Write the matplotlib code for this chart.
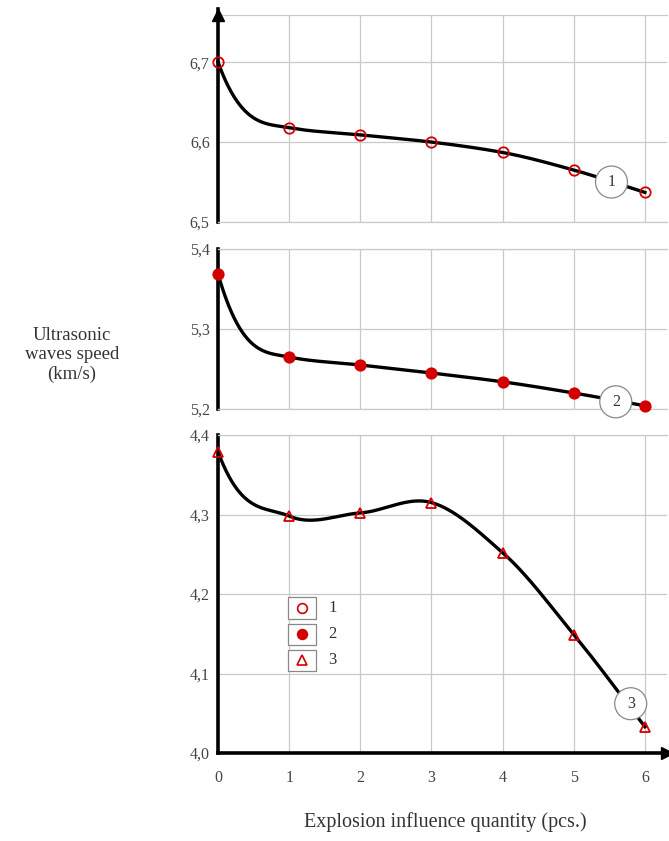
import numpy as np
import matplotlib.pyplot as plt
from matplotlib.patches import Rectangle

plt.rcParams['font.family'] = ['Liberation Serif', 'DejaVu Serif']

x = [0, 1, 2, 3, 4, 5, 6]
speed_1 = [6.700, 6.618, 6.609, 6.600, 6.587, 6.565, 6.537]
speed_2 = [5.369, 5.265, 5.255, 5.245, 5.234, 5.220, 5.204]
speed_3 = [4.379, 4.298, 4.302, 4.315, 4.252, 4.149, 4.033]

yticks_1 = [6.5, 6.6, 6.7]
yticks_2 = [5.2, 5.3, 5.4]
yticks_3 = [4.0, 4.1, 4.2, 4.3, 4.4]

RED = '#d40000'
GRID = '#c9c9c9'


def smooth(xs, ys, n=80, start=3.0):
    # cubic hermite through the points, steep start like the original fit
    xs = np.asarray(xs, float)
    ys = np.asarray(ys, float)
    d = np.diff(ys) / np.diff(xs)
    m = np.zeros_like(ys)
    for i in range(1, len(ys) - 1):
        if d[i - 1] * d[i] > 0:
            m[i] = 2 / (1 / d[i - 1] + 1 / d[i])
        else:
            m[i] = (d[i - 1] + d[i]) / 2
    m[0] = start * d[0]
    m[-1] = d[-1]
    xx, yy = [], []
    for i in range(len(xs) - 1):
        h = xs[i + 1] - xs[i]
        t = np.linspace(0, 1, n)
        h00 = 2 * t**3 - 3 * t**2 + 1
        h10 = t**3 - 2 * t**2 + t
        h01 = -2 * t**3 + 3 * t**2
        h11 = t**3 - t**2
        xx.append(xs[i] + t * h)
        yy.append(h00 * ys[i] + h10 * h * m[i] + h01 * ys[i + 1] + h11 * h * m[i + 1])
    return np.concatenate(xx), np.concatenate(yy)


W, H = 669, 841
fig = plt.figure(figsize=(W / 100, H / 100), dpi=100)


def panel(top, bottom, ylim, ticks):
    ax = fig.add_axes([218 / W, (H - bottom) / H, (667 - 218) / W, (bottom - top) / H])
    ax.set_xlim(0, 6.31)
    ax.set_ylim(*ylim)
    ax.set_xticks(x)
    ax.set_yticks(ticks)
    ax.set_yticklabels([f"{t:.1f}".replace('.', ',') for t in ticks])
    ax.grid(True, color=GRID, linewidth=0.9)
    ax.set_axisbelow(True)
    ax.spines['right'].set_visible(False)
    ax.spines['top'].set_color(GRID)
    ax.spines['top'].set_linewidth(0.9)
    ax.spines['bottom'].set_color(GRID)
    ax.spines['bottom'].set_linewidth(0.9)
    ax.spines['left'].set_linewidth(2.6)
    ax.tick_params(axis='y', length=0, pad=6, labelsize=11.5, labelcolor='#444444')
    ax.tick_params(axis='x', length=0, labelbottom=False)
    return ax


ax1 = panel(15, 222, (6.5, 6.759), yticks_1)
ax2 = panel(249, 409, (5.2, 5.4), yticks_2)
ax3 = panel(435, 753, (4.0, 4.4), yticks_3)
ax3.spines['bottom'].set_color('black')
ax3.spines['bottom'].set_linewidth(2.6)
ax3.tick_params(axis='x', labelbottom=True, labelsize=11.5, labelcolor='#444444', pad=12)

series = [
    (ax1, speed_1, dict(marker='o', mfc='none', mec=RED), '1', (5.53, 6.550)),
    (ax2, speed_2, dict(marker='o', mfc=RED, mec=RED), '2', (5.59, 5.209)),
    (ax3, speed_3, dict(marker='^', mfc='none', mec=RED), '3', (5.80, 4.062)),
]
for ax, ys, mk, lab, pos in series:
    sx, sy = smooth(x, ys)
    ax.plot(sx, sy, color='black', linewidth=2.4, zorder=3, clip_on=False)
    ax.plot(x, ys, linestyle='none', markersize=7.5, markeredgewidth=1.3,
            zorder=4, clip_on=False, **mk)
    ax.text(pos[0], pos[1], lab, ha='center', va='center', fontsize=11.5, color='#333333',
            zorder=5, bbox=dict(boxstyle='circle,pad=0.5', fc='white', ec='#888888', lw=0.9))

# axis arrows
ax1.plot([0], [1.0], marker='^', color='black', markersize=9, transform=ax1.transAxes,
         clip_on=False, zorder=6)
ax1.plot([0, 0], [1.0, 1.03], color='black', linewidth=2.6, transform=ax1.transAxes,
         clip_on=False)
ax3.plot([1.0], [0], marker='>', color='black', markersize=9, transform=ax3.transAxes,
         clip_on=False, zorder=6)

# legend with boxed handles
leg_marks = [dict(marker='o', mfc='none', mec=RED), dict(marker='o', mfc=RED, mec=RED),
             dict(marker='^', mfc='none', mec=RED)]
leg_labels = ['1', '2', '3']
for i, (mk, lab) in enumerate(zip(leg_marks, leg_labels)):
    yc = 0.455 - i * 0.082
    ax3.add_patch(Rectangle((0.155, yc - 0.034), 0.064, 0.068, transform=ax3.transAxes,
                            fill=True, fc='white', ec='#888888', lw=0.9, zorder=5))
    ax3.plot([0.187], [yc], transform=ax3.transAxes, markersize=7, markeredgewidth=1.2,
             zorder=6, **mk)
    ax3.text(0.245, yc, lab, transform=ax3.transAxes, va='center', ha='left', fontsize=12,
             color='#333333')

fig.text(72 / W, 1 - 355 / H, 'Ultrasonic\nwaves speed\n(km/s)', ha='center', va='center',
         fontsize=13.5, color='#333333', linespacing=1.15)
fig.text(445 / W, 1 - 822 / H, 'Explosion influence quantity (pcs.)', ha='center', va='center',
         fontsize=14.5, color='#333333')

fig.savefig('out.png', dpi=100, facecolor='white')
